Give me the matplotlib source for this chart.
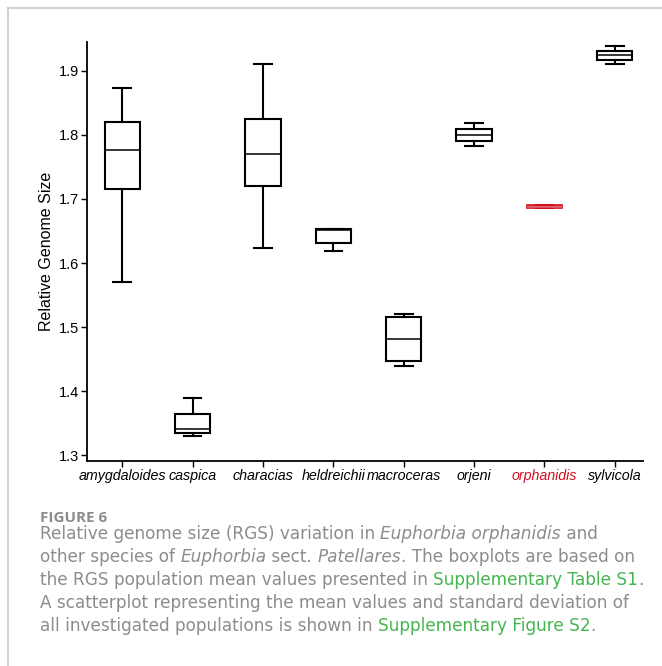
import numpy as np
import matplotlib
matplotlib.use('Agg')
import matplotlib.pyplot as plt
from matplotlib.lines import Line2D
from matplotlib.font_manager import FontProperties

# ---- data (relative genome size) ----
species = ['amygdaloides', 'caspica', 'characias', 'heldreichii',
           'macroceras', 'orjeni', 'orphanidis', 'sylvicola']
whislo = [1.571, 1.330, 1.623, 1.619, 1.440, 1.782, 1.6855, 1.910]
q1     = [1.715, 1.335, 1.721, 1.631, 1.447, 1.791, 1.6855, 1.917]
med    = [1.777, 1.341, 1.770, 1.652, 1.481, 1.800, 1.688, 1.924]
q3     = [1.820, 1.364, 1.825, 1.653, 1.515, 1.809, 1.6905, 1.931]
whishi = [1.873, 1.389, 1.910, 1.653, 1.520, 1.818, 1.6905, 1.938]
yticks = [1.3, 1.4, 1.5, 1.6, 1.7, 1.8, 1.9]
highlight = 'orphanidis'

W, H = 662, 666
fig = plt.figure(figsize=(W / 100, H / 100), dpi=100)
ax = fig.add_axes([87 / W, 1 - 461 / H, (643 - 87) / W, (461 - 42) / H])

stats = []
for i, s in enumerate(species):
    stats.append(dict(label=s, whislo=whislo[i], q1=q1[i], med=med[i],
                      q3=q3[i], whishi=whishi[i], fliers=[]))

pos = np.arange(len(species))
bp = ax.bxp(stats, positions=pos, widths=0.5, capwidths=0.25,
            patch_artist=True, showfliers=False,
            boxprops=dict(facecolor='white', edgecolor='black', linewidth=1.5),
            whiskerprops=dict(color='black', linewidth=1.5),
            capprops=dict(color='black', linewidth=1.5),
            medianprops=dict(color='black', linewidth=1.1))

red = '#d0101e'
k = species.index(highlight)
bp['boxes'][k].set_edgecolor(red)
bp['boxes'][k].set_facecolor('#de6470')
bp['boxes'][k].set_linewidth(1.2)
bp['medians'][k].set_color('#de6470')
for art in bp['whiskers'][2 * k:2 * k + 2] + bp['caps'][2 * k:2 * k + 2]:
    art.set_color(red)

ax.set_xlim(-0.5, len(species) - 0.6)
ax.set_ylim(1.291, 1.945)
ax.set_yticks(yticks)
ax.set_yticklabels(['%.1f' % v for v in yticks], family='Liberation Sans', fontsize=10.5)
ax.set_xticks(pos)
ax.set_xticklabels(species, family='Liberation Sans', style='italic', fontsize=10.3)
ax.set_ylabel('Relative Genome Size', family='Liberation Sans', fontsize=11.5, labelpad=3)

for sp in ['top', 'right']:
    ax.spines[sp].set_visible(False)
for sp in ['left', 'bottom']:
    ax.spines[sp].set_linewidth(1.3)
ax.tick_params(direction='out', length=4, width=1, colors='black', pad=2)
ax.get_xticklabels()[k].set_color(red)

# ---- light frame round the panel ----
fig.add_artist(Line2D([8 / W, 1], [1 - 8 / H, 1 - 8 / H], color='#c8c8c8', lw=1.2,
                      transform=fig.transFigure))
fig.add_artist(Line2D([8 / W, 8 / W], [1 - 8 / H, 0], color='#c8c8c8', lw=1.2,
                      transform=fig.transFigure))

# ---- caption ----
grey = '#8c8c8c'
green = '#44b64f'
cap_font = 'DejaVu Sans'
left = 40

lines = [
    [('Relative genome size (RGS) variation in ', 'normal', grey),
     ('Euphorbia orphanidis', 'italic', grey), (' and', 'normal', grey)],
    [('other species of ', 'normal', grey), ('Euphorbia', 'italic', grey),
     (' sect. ', 'normal', grey), ('Patellares', 'italic', grey),
     ('. The boxplots are based on', 'normal', grey)],
    [('the RGS population mean values presented in ', 'normal', grey),
     ('Supplementary Table S1', 'normal', green), ('.', 'normal', grey)],
    [('A scatterplot representing the mean values and standard deviation of', 'normal', grey)],
    [('all investigated populations is shown in ', 'normal', grey),
     ('Supplementary Figure S2', 'normal', green), ('.', 'normal', grey)],
]
baselines = [539, 562, 585, 608, 631]

renderer = fig.canvas.get_renderer()


def run_width(s, prop):
    w1, _, _ = renderer.get_text_width_height_descent(s + '|', prop, ismath=False)
    w2, _, _ = renderer.get_text_width_height_descent('|', prop, ismath=False)
    return w1 - w2


def cap_prop(style, size, weight='normal'):
    return FontProperties(family=cap_font, style=style, size=size, weight=weight)


# fit the caption size so the longest line stops short of the right edge
w10 = max(sum(run_width(s, cap_prop(st, 10)) for s, st, c in runs) for runs in lines)
cap_size = 10 * (646 - left) / w10

fig.text(left / W, 1 - 522 / H, 'FIGURE 6',
         fontproperties=FontProperties(family='Open Sans', weight='bold', size=11),
         color=grey, va='baseline')

for runs, y in zip(lines, baselines):
    x = float(left)
    for s, style, color in runs:
        prop = cap_prop(style, cap_size)
        fig.text(x / W, 1 - y / H, s, fontproperties=prop, color=color, va='baseline')
        x += run_width(s, prop)

fig.savefig('out.png', dpi=100)
